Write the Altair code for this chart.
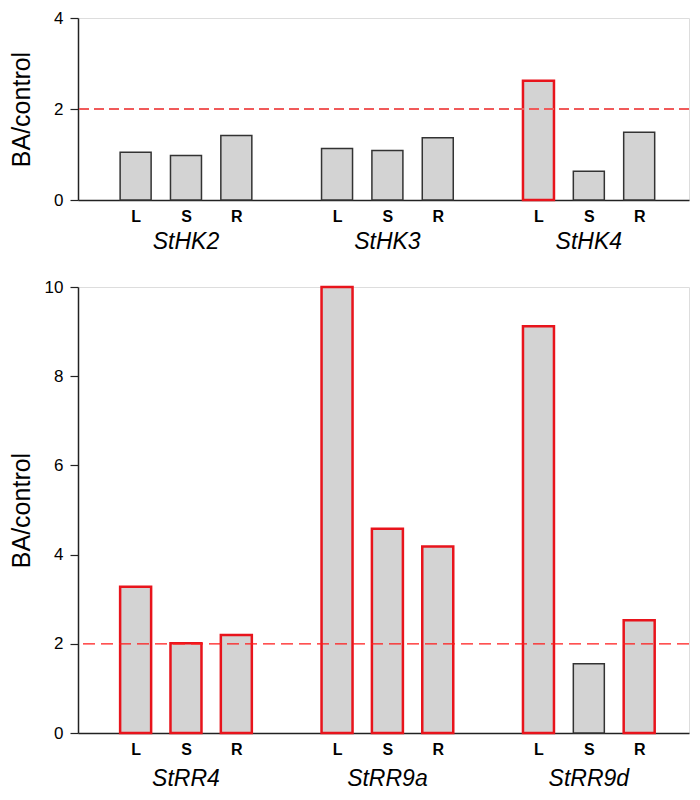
import altair as alt
import pandas as pd

tissues = ["L", "S", "R"]

top_genes = ["StHK2", "StHK3", "StHK4"]
top_values = [1.05, 0.98, 1.42, 1.13, 1.09, 1.37, 2.62, 0.63, 1.49]
top_induced = [False, False, False, False, False, False, True, False, False]

bottom_genes = ["StRR4", "StRR9a", "StRR9d"]
bottom_values = [3.28, 2.01, 2.20, 10.0, 4.58, 4.18, 9.12, 1.55, 2.53]
bottom_induced = [True, True, True, True, True, True, True, False, True]

threshold = 2

FONT = "Liberation Sans"
RED = "#e8141c"
WIDTH = 611
XDOMAIN = [-0.045, 11.89]


def bar_df(genes, values, induced):
    rows = []
    for gi, g in enumerate(genes):
        for ti, t in enumerate(tissues):
            k = gi * 3 + ti
            rows.append({"gene": g, "tissue": t, "pos": gi * 4 + ti + 1,
                         "value": values[k], "induced": induced[k]})
    return pd.DataFrame(rows)


def gene_df(genes):
    return pd.DataFrame({"gene": genes, "pos": [gi * 4 + 2 for gi in range(len(genes))]})


def panel(genes, values, induced, ymax, h, dash_color, dash_width, dash, title_pad, gene_off):
    df = bar_df(genes, values, induced)
    xscale = alt.Scale(domain=XDOMAIN, nice=False, zero=False)
    yscale = alt.Scale(domain=[0, ymax], nice=False)
    x = alt.X("pos:Q", scale=xscale,
              axis=alt.Axis(values=[1, 2, 3, 5, 6, 7, 9, 10, 11],
                            labelExpr="datum.value % 4 == 1 ? 'L' : (datum.value % 4 == 2 ? 'S' : 'R')",
                            ticks=False, grid=False, title=None,
                            labelFontWeight="bold", labelFontSize=16, labelPadding=8,
                            labelColor="black", domainColor="#222", domainWidth=1.5,
                            labelFont=FONT))
    y = alt.Y("value:Q", scale=yscale,
              axis=alt.Axis(values=list(range(0, ymax + 1, 2)), grid=False,
                            title="BA/control", titleFontSize=25, titleFontWeight="normal",
                            titleFont=FONT, titleColor="black", titlePadding=title_pad,
                            tickSize=8, tickColor="#222", tickWidth=1.2,
                            labelFontSize=17, labelColor="black", labelPadding=7,
                            labelFont=FONT, domainColor="#222", domainWidth=1.5))
    bars = alt.Chart(df).mark_bar(size=31, fill="#d3d3d3", orient="vertical").encode(
        x=x, y=y,
        stroke=alt.condition("datum.induced", alt.value(RED), alt.value("#333333")),
        strokeWidth=alt.condition("datum.induced", alt.value(2.5), alt.value(1.5)),
    )
    rule = alt.Chart(pd.DataFrame({"t": [threshold]})).mark_rule(
        color=dash_color, strokeWidth=dash_width, strokeDash=dash
    ).encode(y=alt.Y("t:Q", scale=yscale))
    labels = alt.Chart(gene_df(genes)).mark_text(
        fontSize=23, fontStyle="italic", font=FONT, baseline="middle", color="black"
    ).encode(x=alt.X("pos:Q", scale=xscale), y=alt.value(h + gene_off), text="gene:N")
    return alt.layer(bars, rule, labels).properties(width=WIDTH, height=h)


top = panel(top_genes, top_values, top_induced, 4, 182, "#f05a5a", 2, [10, 5], 19, 42)
bottom = panel(bottom_genes, bottom_values, bottom_induced, 10, 446, "#ff1a1a", 1.3, [12, 6], 10, 46)

chart = alt.vconcat(top, bottom, spacing=87, bounds="flush", padding=0).configure_view(
    stroke="#222", strokeWidth=1.2
).configure(font=FONT, padding=0)

chart.save("out.html", embed_options={"renderer": "svg", "actions": False})
